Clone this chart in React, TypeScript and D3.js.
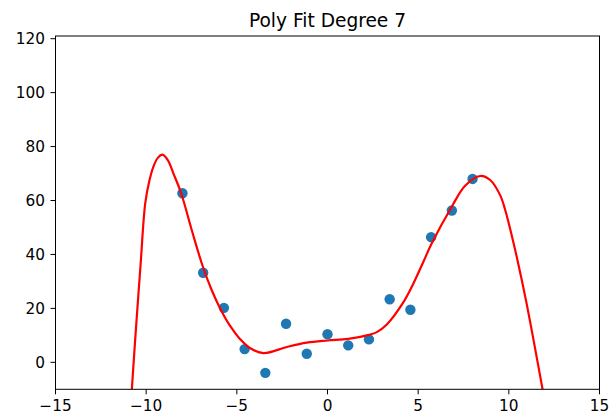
import React from "react";
import * as d3 from "d3";

const title = "Poly Fit Degree 7";
const pointX = [-8, -6.857, -5.714, -4.571, -3.429, -2.286, -1.143, 0, 1.143, 2.286, 3.429, 4.571, 5.714, 6.857, 8];
const pointY = [62.7, 33.2, 20.2, 4.9, -3.9, 14.3, 3.2, 10.4, 6.3, 8.5, 23.4, 19.5, 46.4, 56.3, 68.0];
const fitX = [-10.79, -10.57, -10.31, -10.05, -9.82, -9.6, -9.35, -9.1, -8.8, -8.49, -8.07, -7.48, -6.9, -6.4, -5.92, -5.37, -4.82, -4.3, -3.53, -2.24, -1.14, 0, 1.14, 2.29, 2.72, 3.27, 4.18, 4.65, 5.27, 5.71, 6.86, 7.59, 8.42, 8.97, 9.52, 9.8, 10.07, 10.48, 10.96, 11.86];
const fitY = [-10, 11.9, 36, 59.0, 67.4, 72.6, 75.9, 77, 74.9, 69.9, 62.7, 48.9, 36.0, 27.0, 20.0, 13.5, 8.6, 5.4, 3.4, 5.7, 7.3, 8.1, 8.7, 10.2, 11.2, 14.0, 22.2, 28.0, 37.0, 43.6, 57.8, 65.5, 69.1, 67.6, 62.0, 56.5, 49.5, 37.8, 22.5, -10];
const xTicks = [-15, -10, -5, 0, 5, 10, 15];
const yTicks = [0, 20, 40, 60, 80, 100, 120];
const xDomain = [-15, 15];
const yDomain = [-10, 121];

export default function App() {
  const W = 611, H = 417;
  const L = 55.5, R = 599.5, T = 36, B = 389.3;
  const x = d3.scaleLinear().domain(xDomain).range([L, R]);
  const y = d3.scaleLinear().domain(yDomain).range([B, T]);
  const fit = fitX.map((v, i) => [v, fitY[i]] as [number, number]);
  const line = d3.line<[number, number]>().x(d => x(d[0])).y(d => y(d[1])).curve(d3.curveCatmullRom.alpha(0.5));
  const font = "DejaVu Sans, sans-serif";
  const fmt = (v: number) => (v < 0 ? "\u2212" + Math.abs(v) : String(v));
  return (
    <svg width={W} height={H} style={{ position: "absolute", left: 0, top: 0, background: "#fff" }} fontFamily={font}>
      <defs>
        <clipPath id="plot"><rect x={L} y={T} width={R - L} height={B - T} /></clipPath>
      </defs>
      <text x={(L + R) / 2} y={27} textAnchor="middle" fontSize={18.6} fill="#000">{title}</text>
      <g clipPath="url(#plot)">
        {pointX.map((v, i) => (
          <circle key={i} cx={x(v)} cy={y(pointY[i])} r={5.2} fill="#1f77b4" />
        ))}
        <path d={line(fit) || ""} fill="none" stroke="#ff0000" strokeWidth={2.2} />
      </g>
      <rect x={L} y={T} width={R - L} height={B - T} fill="none" stroke="#000" strokeWidth={1} />
      {xTicks.map(t => (
        <g key={t}>
          <line x1={x(t)} x2={x(t)} y1={B} y2={B + 5} stroke="#000" strokeWidth={1} />
          <text x={x(t)} y={B + 21.5} textAnchor="middle" fontSize={15.3} fill="#000">{fmt(t)}</text>
        </g>
      ))}
      {yTicks.map(t => (
        <g key={t}>
          <line x1={L - 5} x2={L} y1={y(t)} y2={y(t)} stroke="#000" strokeWidth={1} />
          <text x={L - 10.5} y={y(t)} dy="0.36em" textAnchor="end" fontSize={15.3} fill="#000">{fmt(t)}</text>
        </g>
      ))}
    </svg>
  );
}
